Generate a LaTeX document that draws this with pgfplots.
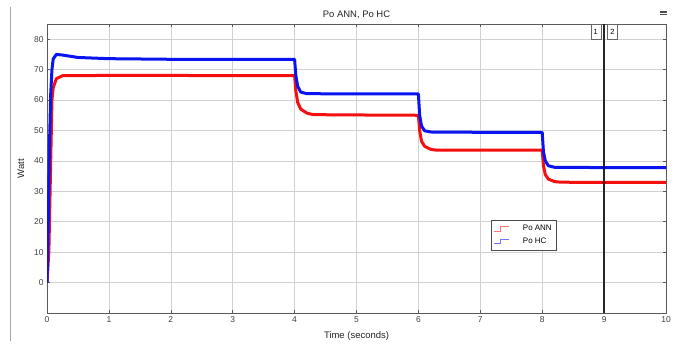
\documentclass[border=0pt]{standalone}
\usepackage{pgfplots}
\pgfplotsset{compat=1.18}
\usepackage{fontspec}
\setmainfont{Liberation Sans}
\setsansfont{Liberation Sans}

\definecolor{gridgray}{gray}{0.82}
\definecolor{framegray}{gray}{0.35}
\definecolor{hcblue}{RGB}{10,20,240}
\definecolor{annred}{RGB}{245,15,15}

\begin{document}
\begin{tikzpicture}
% overall canvas
\useasboundingbox (-47bp,-34bp) rectangle (638bp,313bp);
\fill[white] (-47bp,-34bp) rectangle (638bp,313bp);
% window edge on the left
\draw[gray!70, line width=0.5bp] (-37bp,-28bp) -- (-37bp,306bp);
% small toolbar glyph at the top right
\fill[gray!60!black] (613bp,300bp) rectangle (620bp,302bp);
\fill[gray!60!black] (613bp,297.5bp) rectangle (620bp,299bp);
\begin{axis}[
  at={(0,0)}, anchor=south west,
  scale only axis,
  width=619bp, height=289bp,
  xmin=0, xmax=10, ymin=-10, ymax=85,
  xtick={0,1,...,10},
  ytick={0,10,...,80},
  grid=major,
  major grid style={gridgray, line width=0.6bp},
  axis line style={framegray, line width=0.7bp},
  tick style={framegray, line width=0.6bp},
  tick align=inside,
  major tick length=3bp,
  ticklabel style={font=\fontsize{8.5}{9}\selectfont, text=black!75},
  /pgf/number format/assume math mode=true,
  title={Po ANN, Po HC},
  title style={font=\fontsize{9.5}{10}\selectfont, text=black!85, yshift=-4bp},
  xlabel={Time (seconds)},
  xlabel style={font=\fontsize{9.5}{10}\selectfont, text=black!85, yshift=-2bp},
  ylabel={Watt},
  ylabel style={font=\fontsize{9.5}{10}\selectfont, text=black!85, yshift=3bp},
  legend style={at={(axis cs:7.17,20.7)}, anchor=north west,
    draw=black!70, line width=0.5bp, font=\fontsize{8}{9}\selectfont,
    inner xsep=3bp, inner ysep=3.5bp, row sep=1.5bp, cells={anchor=west},
    /tikz/every odd column/.append style={column sep=12bp}},
  legend cell align=left,
  clip=true,
]
% Po ANN
\addplot[annred, line width=3bp, line join=round,
  legend image code/.code={\draw[red!55, line width=0.7bp]
    (0cm,-0.08cm) -- (0.2cm,-0.08cm) -- (0.2cm,0.08cm) -- (0.5cm,0.08cm);}]
coordinates {
(0,0) (0.03,10) (0.05,30) (0.065,45) (0.08,60) (0.1,64) (0.15,67) (0.25,68)
(1,68.1) (2,68.1) (3,68) (4,68)
(4.02,63) (4.05,59.2) (4.1,57) (4.2,55.7) (4.3,55.2) (5,55.1) (6,55.0)
(6.02,50) (6.05,46.5) (6.1,44.8) (6.2,43.8) (6.3,43.5) (7,43.5) (8,43.5)
(8.02,38.5) (8.05,35.5) (8.1,34) (8.2,33.2) (8.3,33) (9,32.9) (10,32.9)
};
\addlegendentry{Po ANN}
% Po HC
\addplot[hcblue, line width=3bp, line join=round,
  legend image code/.code={\draw[blue!55, line width=0.7bp]
    (0cm,-0.08cm) -- (0.2cm,-0.08cm) -- (0.2cm,0.08cm) -- (0.5cm,0.08cm);}]
coordinates {
(0,0) (0.02,20) (0.04,45) (0.06,62) (0.08,70) (0.1,73.5) (0.15,75) (0.25,74.8)
(0.5,74) (1,73.6) (2,73.4) (3,73.4) (4,73.4)
(4.02,68) (4.05,64.5) (4.1,62.6) (4.2,62.1) (5,62) (6,62)
(6.02,55) (6.05,51.5) (6.1,49.9) (6.2,49.5) (7,49.4) (8,49.4)
(8.02,43) (8.05,40) (8.1,38.4) (8.2,37.9) (9,37.8) (10,37.8)
};
\addlegendentry{Po HC}
% cursor at t = 9 s
\draw[black!85, line width=1.5bp] (axis cs:9,-10) -- (axis cs:9,85);
\addplot[only marks, mark=*, mark size=1.6bp, color=blue!50!black, forget plot]
  coordinates {(9,37.8)};
\addplot[only marks, mark=*, mark size=1.6bp, color=red!50!black, forget plot]
  coordinates {(9,32.9)};
\node[draw=black!60, fill=white, inner sep=1.2bp, font=\fontsize{7.5}{8}\selectfont,
  anchor=north east, minimum height=15bp, minimum width=10bp]
  at (axis cs:8.95,85) {1};
\node[draw=black!60, fill=white, inner sep=1.2bp, font=\fontsize{7.5}{8}\selectfont,
  anchor=north west, minimum height=15bp, minimum width=10bp]
  at (axis cs:9.05,85) {2};
\end{axis}
\end{tikzpicture}
\end{document}
